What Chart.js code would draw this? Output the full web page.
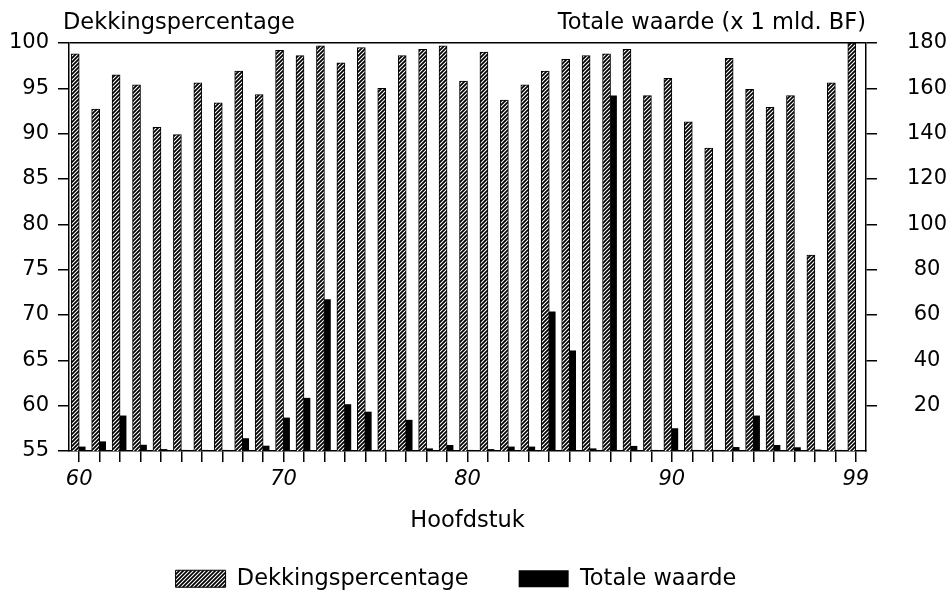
<!DOCTYPE html>
<html lang="nl">
<head>
<meta charset="UTF-8">
<title>Dekkingspercentage en totale waarde per hoofdstuk</title>
<script src="https://cdn.jsdelivr.net/npm/chart.js@4/dist/chart.umd.min.js"></script>
<style>
  html, body { margin: 0; padding: 0; background: #fff; }
  #wrap { width: 952px; height: 601px; }
</style>
</head>
<body>
<div id="wrap"><canvas id="chart"></canvas></div>
<script>
// hoofdstukken 60-99 (77 bestaat niet)
const hoofdstukken = ['60','61','62','63','64','65','66','67','68','69',
  '70','71','72','73','74','75','76','78','79',
  '80','81','82','83','84','85','86','87','88','89',
  '90','91','92','93','94','95','96','97','98','99']
const getoondeLabels = ['60', '70', '80', '90', '99']

// dekkingspercentage (linker as)
const dekking = [98.8, 92.7, 96.5, 95.4, 90.7, 89.9, 95.6, 93.4, 96.9, 94.3,
  99.2, 98.6, 99.7, 97.8, 99.5, 95.0, 98.6, 99.3, 99.7,
  95.8, 99.0, 93.7, 95.4, 96.9, 98.2, 98.6, 98.8, 99.3, 94.2,
  96.1, 91.3, 88.4, 98.3, 94.9, 92.9, 94.2, 76.6, 95.6, 100]

// totale waarde in mld. BF (rechter as)
const waarde = [1.8, 4.1, 15.5, 2.6, 0.7, 0.2, 0.2, 0.2, 5.5, 2.2,
  14.6, 23.3, 66.8, 20.5, 17.2, 0.2, 13.6, 1.0, 2.5,
  0.3, 0.7, 1.8, 1.8, 61.4, 44.2, 1.0, 156.7, 2.1, 0.3,
  9.9, 0.3, 0.2, 1.6, 15.5, 2.5, 1.5, 0.5, 0.2, 0]

const FONT = "'DejaVu Sans', sans-serif"

function maakArcering() {
  const c = document.createElement('canvas')
  c.width = 4
  c.height = 4
  const g = c.getContext('2d')
  g.fillStyle = '#000'
  g.fillRect(0, 0, 4, 4)
  g.strokeStyle = '#fff'
  g.lineWidth = 1.1
  g.beginPath()
  g.moveTo(-1, 5); g.lineTo(5, -1)
  g.moveTo(-1, 1); g.lineTo(1, -1)
  g.moveTo(3, 5); g.lineTo(5, 3)
  g.stroke()
  return g.createPattern(c, 'repeat')
}
const arcering = maakArcering()

// astitels boven de grafiek + legenda iets naar links
const kopTeksten = {
  id: 'kopTeksten',
  afterLayout(chart) {
    chart.legend.left -= 20
    chart.legend.right -= 20
  },
  afterDraw(chart) {
    const { ctx, chartArea } = chart
    ctx.save()
    ctx.fillStyle = '#000'
    ctx.font = '22.5px ' + FONT
    ctx.textBaseline = 'alphabetic'
    ctx.textAlign = 'left'
    ctx.fillText('Dekkingspercentage', chartArea.left - 6, 29)
    ctx.textAlign = 'right'
    ctx.fillText('Totale waarde (x 1 mld. BF)', chartArea.right, 29)
    ctx.restore()
  },
}

Chart.defaults.font.family = FONT
Chart.defaults.color = '#000'

new Chart(document.getElementById('chart'), {
  type: 'bar',
  data: {
    labels: hoofdstukken,
    datasets: [
      {
        label: 'Dekkingspercentage',
        data: dekking,
        yAxisID: 'y',
        backgroundColor: arcering,
        borderColor: '#000',
        borderWidth: 1,
        barThickness: 8,
      },
      {
        label: 'Totale waarde',
        data: waarde,
        yAxisID: 'y1',
        backgroundColor: '#000',
        borderColor: '#000',
        borderWidth: 0,
        barThickness: 6,
      },
    ],
  },
  options: {
    responsive: true,
    maintainAspectRatio: false,
    animation: false,
    layout: { padding: { top: 43, left: 0, right: 0, bottom: 1 } },
    plugins: {
      tooltip: { enabled: false },
      legend: {
        position: 'bottom',
        labels: {
          boxWidth: 50,
          boxHeight: 17,
          padding: 50,
          font: { size: 22.5 },
          color: '#000',
        },
      },
    },
    scales: {
      x: {
        grid: {
          drawOnChartArea: false,
          offset: false,
          tickLength: 11,
          color: '#000',
          lineWidth: 1.5,
        },
        border: { color: '#000', width: 1.5 },
        ticks: {
          autoSkip: false,
          maxRotation: 0,
          padding: 5,
          font: { size: 21, style: 'italic' },
          callback: function (value) {
            const lab = this.getLabelForValue(value)
            return getoondeLabels.includes(lab) ? lab : ''
          },
        },
        title: {
          display: true,
          text: 'Hoofdstuk',
          font: { size: 22.5 },
          padding: { top: 10.3, bottom: -17 },
        },
      },
      y: {
        position: 'left',
        min: 55,
        max: 100,
        afterFit: (scale) => { scale.width = 69 },
        ticks: { stepSize: 5, padding: 9, font: { size: 21 } },
        grid: {
          tickLength: 11,
          lineWidth: 1.5,
          tickColor: '#000',
          color: (ctx) => (ctx.tick && ctx.tick.value === 100 ? '#000' : 'rgba(0,0,0,0)'),
        },
        border: { color: '#000', width: 1.5 },
      },
      y1: {
        position: 'right',
        min: 0,
        max: 180,
        afterFit: (scale) => { scale.width = 86 },
        ticks: {
          stepSize: 20,
          padding: 30,
          crossAlign: 'center',
          font: { size: 21 },
          callback: (v) => (v === 0 ? '' : v),
        },
        grid: {
          drawOnChartArea: false,
          tickLength: 11,
          lineWidth: 1.5,
          color: '#000',
          tickColor: (ctx) => (ctx.tick && ctx.tick.value === 0 ? 'rgba(0,0,0,0)' : '#000'),
        },
        border: { color: '#000', width: 1.5 },
      },
    },
  },
  plugins: [kopTeksten],
})
</script>
</body>
</html>
